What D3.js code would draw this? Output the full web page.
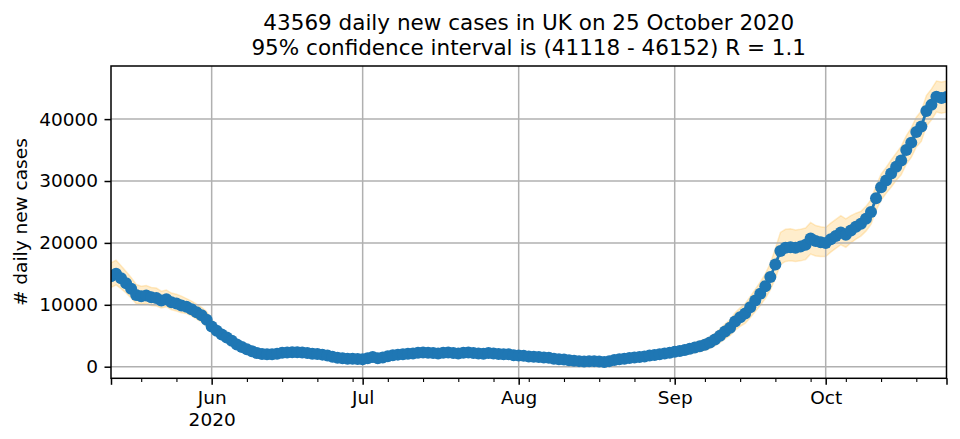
<!DOCTYPE html>
<html><head><meta charset="utf-8">
<script src="https://cdn.jsdelivr.net/npm/d3@7"></script>
<style>body{margin:0;background:#fff} svg{display:block} text{font-family:"DejaVu Sans",sans-serif}</style>
</head><body><svg id="c" width="960" height="439"></svg>
<script>
const startDate = "2020-05-12";
const endDate = "2020-10-25";
const cases = [
14600,15000,14300,13500,12600,11600,11400,11500,11200,11100,
10700,10900,10400,10200,9900,9700,9300,8800,8300,7600,
6500,5800,5200,4700,4200,3600,3200,2800,2500,2200,
2050,2000,2000,2100,2250,2300,2350,2320,2300,2200,
2100,2050,1950,1800,1600,1450,1350,1300,1300,1250,
1200,1350,1550,1350,1500,1700,1850,1950,2000,2100,
2150,2250,2300,2250,2200,2150,2250,2300,2200,2150,
2250,2300,2200,2150,2100,2200,2150,2050,2000,2000,
1850,1800,1750,1650,1600,1550,1500,1450,1300,1200,
1150,1050,950,900,850,880,900,850,750,900,
1100,1200,1300,1400,1500,1550,1650,1800,1900,2000,
2150,2250,2400,2550,2700,2900,3100,3300,3550,3900,
4400,5000,5700,6300,7300,8000,8600,9600,10700,11800,
13000,14500,16500,18700,19200,19300,19200,19400,19700,20700,
20300,20100,20000,20600,21100,21700,21300,22000,22600,23100,
23900,25000,27200,29000,30100,31200,32300,33300,35000,36200,
37900,38800,41300,42300,43600,43400,43569
];
const ciAbove = [
2200,2200,2000,1900,1800,1700,1600,1600,1600,1600,
1500,1500,1500,1500,1500,1300,1300,1300,1300,1300,
1100,900,900,900,900,700,600,600,600,600,
500,500,500,500,500,500,500,500,500,500,
500,500,500,500,500,500,500,500,500,500,
500,500,500,500,500,500,500,500,500,500,
500,500,500,500,500,500,500,500,500,500,
500,500,500,500,500,500,500,500,500,500,
500,500,500,500,500,500,500,500,500,500,
500,500,500,500,500,500,500,500,500,500,
500,500,500,500,500,500,500,500,500,500,
500,550,600,650,700,750,800,850,900,950,
1000,1100,1200,1300,1400,1500,1600,1700,1800,1900,
2000,2200,2600,3000,3000,3000,2900,2800,2700,2600,
2500,2500,2500,2600,2700,2700,2600,2400,2200,2000,
2000,2000,2000,2100,2100,2200,2200,2300,2300,2400,
2400,2500,2500,2550,2550,2580,2583
];
const ciBelow = [
1800,1800,1700,1600,1500,1400,1300,1300,1300,1300,
1200,1200,1200,1200,1200,1100,1100,1100,1100,1100,
1000,800,800,800,800,600,600,600,600,600,
500,500,500,500,500,500,500,500,500,500,
500,500,500,500,500,500,500,500,500,500,
500,500,500,500,500,500,500,500,500,500,
500,500,500,500,500,500,500,500,500,500,
500,500,500,500,500,500,500,500,500,500,
500,500,500,500,500,500,500,500,500,500,
500,500,500,500,500,500,500,500,500,500,
500,500,500,500,500,500,500,500,500,500,
500,550,600,650,700,750,800,850,900,950,
1000,1100,1200,1300,1400,1500,1600,1700,1800,1900,
2000,2100,2200,2200,2200,2200,2200,2300,2400,2500,
2400,2300,2200,2100,2000,2000,2000,2000,2000,2000,
2000,2000,2000,2100,2100,2200,2200,2300,2300,2400,
2400,2400,2450,2450,2450,2450,2451
];
const yTicks = [0, 10000, 20000, 30000, 40000];
const monthTicks = ["2020-06-01","2020-07-01","2020-08-01","2020-09-01","2020-10-01"];
const monthLabels = ["Jun","Jul","Aug","Sep","Oct"];
const yearLabel = "2020";
const titleLines = ["43569 daily new cases in UK on 25 October 2020",
                    "95% confidence interval is (41118 - 46152) R = 1.1"];
const yLabel = "# daily new cases";

const m = {l:111, r:946.5, t:66, b:378.3};
const parse = d3.utcParse("%Y-%m-%d");
const t0 = parse(startDate), t1 = parse(endDate);
const dates = d3.utcDay.range(t0, d3.utcDay.offset(t1, 1));
const rows = dates.map((d,i)=>({d, v:cases[i], lo:cases[i]-ciBelow[i], hi:cases[i]+ciAbove[i]}));

const x = d3.scaleUtc().domain([t0, t1]).range([m.l, m.r]);
const y = d3.scaleLinear().domain([-1874, 48580]).range([m.b, m.t]);

const svg = d3.select("#c");
svg.append("rect").attr("width",960).attr("height",439).attr("fill","#fff");
svg.append("defs").append("clipPath").attr("id","clip").append("rect")
  .attr("x",m.l).attr("y",m.t).attr("width",m.r-m.l).attr("height",m.b-m.t);
const plot = svg.append("g").attr("clip-path","url(#clip)");

// CI band
plot.append("path").datum(rows)
  .attr("d", d3.area().x(d=>x(d.d)).y0(d=>y(d.lo)).y1(d=>y(d.hi)))
  .attr("fill","orange").attr("fill-opacity",0.2)
  .attr("stroke","orange").attr("stroke-opacity",0.2).attr("stroke-width",1.5);

// grid
const majorDates = monthTicks.map(parse);
plot.selectAll(".gx").data(majorDates).enter().append("line")
  .attr("x1",d=>x(d)).attr("x2",d=>x(d)).attr("y1",m.t).attr("y2",m.b)
  .attr("stroke","#b0b0b0").attr("stroke-width",1.5);
plot.selectAll(".gy").data(yTicks).enter().append("line")
  .attr("x1",m.l).attr("x2",m.r).attr("y1",d=>y(d)).attr("y2",d=>y(d))
  .attr("stroke","#b0b0b0").attr("stroke-width",1.5);

// line + markers
plot.append("path").datum(rows)
  .attr("d", d3.line().x(d=>x(d.d)).y(d=>y(d.v)))
  .attr("fill","none").attr("stroke","#1f77b4").attr("stroke-width",2.8);
plot.selectAll(".pt").data(rows).enter().append("circle")
  .attr("cx",d=>x(d.d)).attr("cy",d=>y(d.v)).attr("r",6).attr("fill","#1f77b4");

// x axis major
const fontSize = "18.5px";
const majAll = [t0, ...majorDates, t1];
const xAxis = d3.axisBottom(x).tickValues(majAll).tickSize(6.5).tickSizeOuter(0).tickPadding(6)
  .tickFormat(d => { const i = majorDates.findIndex(e=>+e===+d); return i<0 ? "" : monthLabels[i]; });
const gx = svg.append("g").attr("transform",`translate(0,${m.b})`).call(xAxis);
gx.select(".domain").remove();
gx.selectAll(".tick line").attr("stroke","#000").attr("stroke-width",1.5);
gx.selectAll(".tick text").attr("fill","#000").style("font-size",fontSize).style("font-family","DejaVu Sans");
gx.selectAll(".tick text").filter(d=>+d===+majorDates[0]).each(function(){
  const t = d3.select(this); const lbl = t.text(); t.text(null);
  t.append("tspan").attr("x",0).text(lbl);
  t.append("tspan").attr("x",0).attr("dy","1.17em").text(yearLabel);
});

// x axis minor (Mondays)
const minor = d3.utcMonday.range(t0, t1).filter(d=>!majAll.some(e=>+e===+d));
const xMinor = d3.axisBottom(x).tickValues(minor).tickSize(3.7).tickSizeOuter(0).tickFormat("");
const gxm = svg.append("g").attr("transform",`translate(0,${m.b})`).call(xMinor);
gxm.select(".domain").remove();
gxm.selectAll(".tick line").attr("stroke","#000").attr("stroke-width",1.1);

// y axis
const yAxis = d3.axisLeft(y).tickValues(yTicks).tickSize(6.5).tickSizeOuter(0).tickPadding(6.5).tickFormat(d3.format("d"));
const gy = svg.append("g").attr("transform",`translate(${m.l},0)`).call(yAxis);
gy.select(".domain").remove();
gy.selectAll(".tick line").attr("stroke","#000").attr("stroke-width",1.5);
gy.selectAll(".tick text").attr("fill","#000").style("font-size",fontSize).style("font-family","DejaVu Sans");

// spines
svg.append("rect").attr("x",m.l).attr("y",m.t).attr("width",m.r-m.l).attr("height",m.b-m.t)
  .attr("fill","none").attr("stroke","#000").attr("stroke-width",1.5);

// y label
svg.append("text").attr("transform",`translate(27,${(m.t+m.b)/2}) rotate(-90)`)
  .attr("text-anchor","middle").style("font-size",fontSize).attr("fill","#000").text(yLabel);

// title
const title = svg.append("text").attr("text-anchor","middle").style("font-size","21.5px").attr("fill","#000");
titleLines.forEach((s,i)=> title.append("tspan").attr("x",(m.l+m.r)/2).attr("y",30+i*24.5).text(s));
</script></body></html>
